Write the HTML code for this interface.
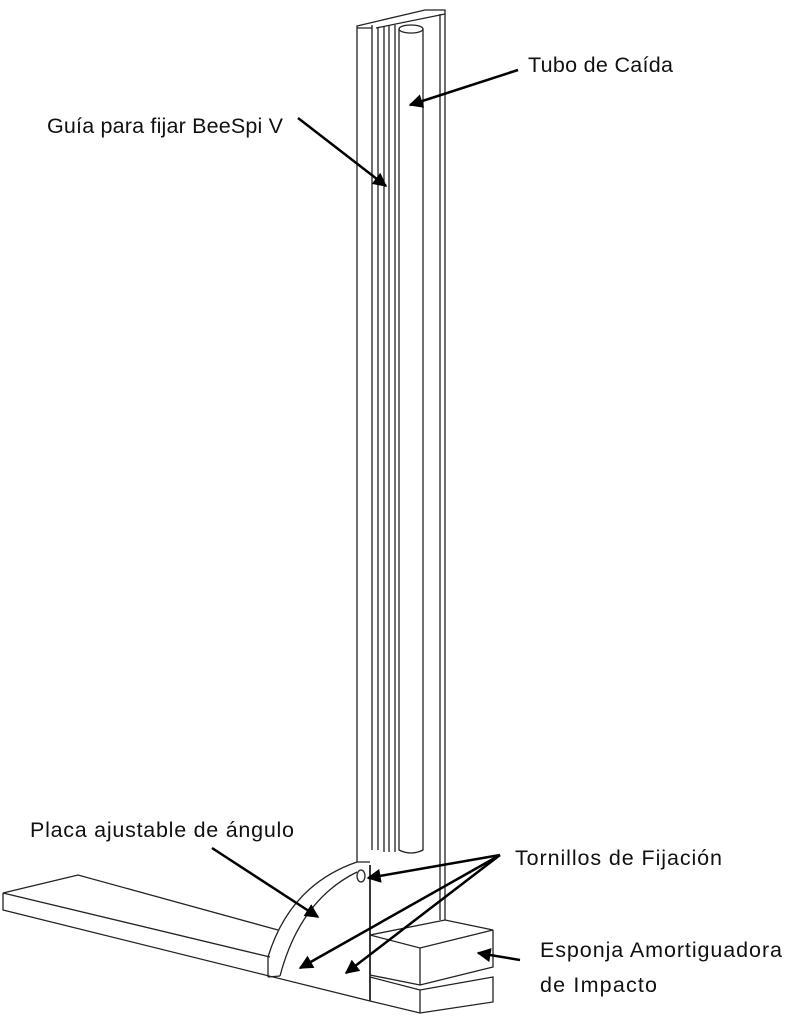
<!DOCTYPE html>
<html><head><style>body{margin:0;background:#fff}svg{display:block}text{font-family:"Liberation Sans",sans-serif;font-size:21.5px;fill:#111}</style></head><body>
<svg width="810" height="1024" viewBox="0 0 810 1024">
<defs>
<marker id="b" viewBox="0 0 10 10" markerWidth="16" markerHeight="14" refX="9" refY="5" orient="auto" markerUnits="userSpaceOnUse"><path d="M0,0 L10,5 L0,10 z" fill="#000"/></marker></defs>
<g fill="none" stroke="#222" stroke-width="1.3">
<path d="M357,28 L372,28 L372,25 M357,28 L357,26 L425,10 L445,10 L445,14 L376,28"/>
<path d="M372,28 L372,850 M378,27 L378,850 M384,26 L384,852 M389,26 L389,852 M395,25 L395,852"/>
<ellipse cx="411" cy="29" rx="12" ry="4"/>
<path d="M399,29 L399,850 Q411,856 423,850 L423,29"/>
<path d="M357,28 L357,862 M445,14 L445,920 M440,14 L440,920"/>
<path d="M3,893 L78,875 L278,930 M3,893 L270,957 M3,893 L3,910 L370,1001"/>
<path d="M268,977 L268,957 Q290,885 357,862 L370,862 M280,976 Q300,900 357,872"/>
<path d="M268,977 L280,976"/>
<path d="M370,865 L370,1001" stroke-width="1.8"/>
<ellipse cx="361" cy="876" rx="4" ry="6"/>
<path d="M370,935 L445,920 L493,930 L420,948 Z M420,948 L420,985 L370,975 M493,930 L493,967 L420,985"/>
<path d="M370,977 L420,990 L493,977 L493,1002 L420,1013 L370,1001 M420,990 L420,1013"/>
</g>
<g stroke="#000" stroke-width="2.5" fill="none">
<line x1="518" y1="70" x2="410" y2="105" marker-end="url(#b)"/>
<line x1="298" y1="118" x2="386" y2="186" marker-end="url(#b)"/>
<line x1="212" y1="848" x2="318" y2="917" marker-end="url(#b)"/>
<line x1="500" y1="855" x2="368" y2="878" marker-end="url(#b)"/>
<line x1="500" y1="855" x2="300" y2="968" marker-end="url(#b)"/>
<line x1="500" y1="855" x2="346" y2="973" marker-end="url(#b)"/>
<line x1="520" y1="960" x2="478" y2="953" marker-end="url(#b)"/>
</g>
<text x="528" y="72" textLength="145">Tubo de Caída</text>
<text x="47" y="133" textLength="236">Guía para fijar BeeSpi V</text>
<text x="30" y="837" textLength="264">Placa ajustable de ángulo</text>
<text x="515" y="865" textLength="207">Tornillos de Fijación</text>
<text x="540" y="957" textLength="242">Esponja Amortiguadora</text>
<text x="540" y="992" textLength="117">de Impacto</text>
</svg>
</body></html>
